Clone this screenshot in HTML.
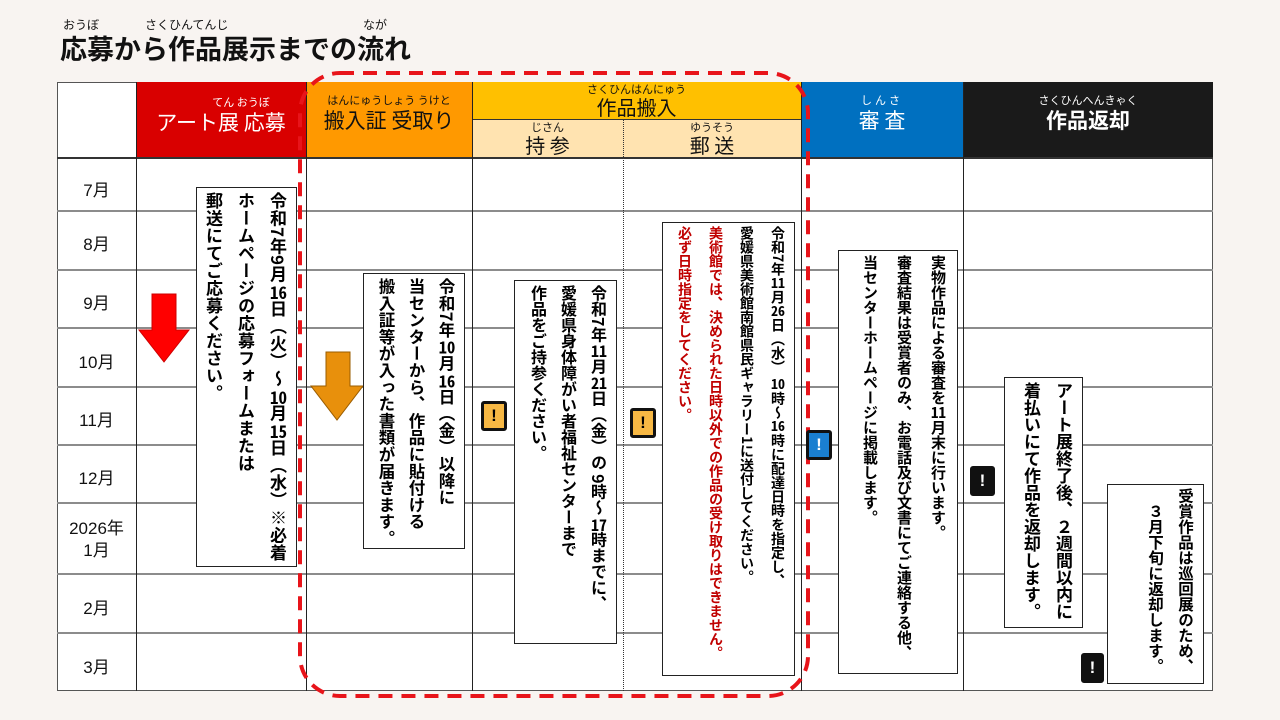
<!DOCTYPE html>
<html><head><meta charset="utf-8"><style>
*{margin:0;padding:0;box-sizing:border-box}
body{width:1280px;height:720px;background:#f8f4f1;position:relative;overflow:hidden;font-family:"Liberation Sans","Noto Sans CJK JP",sans-serif}
.a{position:absolute}
.hl{position:absolute;height:2px;background:#8c8c8c;left:57px;width:1156px}
.vl{position:absolute;width:1px;background:#222;top:82px;height:609px}
.mon{position:absolute;left:57px;width:79px;text-align:center;font-size:17px;color:#111}
.hd{position:absolute;text-align:center;color:#fff;font-family:"Noto Sans CJK JP",sans-serif}
.rb{font-size:11px;display:block;line-height:13px}
.box{position:absolute;background:#fff;border:1.5px solid #222;writing-mode:vertical-rl;font-family:"Noto Sans CJK JP",sans-serif;font-weight:bold;font-size:16px;line-height:30px;padding:4px 2px;color:#000;white-space:nowrap}
.tc{text-combine-upright:all}
.red{color:#c00000}
.ex{position:absolute;width:26px;height:30px;border:3px solid #111;border-radius:3px;text-align:center;font-weight:bold;font-size:17px;line-height:24px}
</style></head><body>
<div class="a" style="left:63px;top:16px;font-size:12px;color:#111;font-family:'Noto Sans CJK JP',sans-serif;width:400px;height:16px"><span class="a" style="left:0">おうぼ</span><span class="a" style="left:82px">さくひんてんじ</span><span class="a" style="left:300px">なが</span></div>
<div class="a" style="left:60px;top:30px;font-size:27px;font-weight:bold;color:#111;font-family:'Noto Sans CJK JP',sans-serif;line-height:36px">応募から作品展示までの流れ</div>

<div class="a" style="left:57px;top:82px;width:1156px;height:609px;background:#fff;border:1px solid #555"></div>
<div class="a" style="left:136px;top:82px;width:170px;height:76px;background:#d90000"></div>
<div class="a" style="left:306px;top:82px;width:166px;height:76px;background:#ff9900"></div>
<div class="a" style="left:472px;top:82px;width:329px;height:37px;background:#ffc000"></div>
<div class="a" style="left:472px;top:119px;width:329px;height:39px;background:#ffe3b0;border-top:1px solid #333"></div>
<div class="a" style="left:801px;top:82px;width:162px;height:76px;background:#0070c0"></div>
<div class="a" style="left:963px;top:82px;width:250px;height:76px;background:#1a1a1a"></div>

<div class="hd" style="left:136px;top:96px;width:170px;font-size:21px;line-height:26px"><span class="rb" style="padding-left:40px">てん おうぼ</span>アート展 応募</div>
<div class="hd" style="left:306px;top:94px;width:166px;font-size:21px;line-height:26px;color:#111"><span class="rb">はんにゅうしょう うけと</span>搬入証 受取り</div>
<div class="hd" style="left:472px;top:83px;width:329px;font-size:20px;color:#111;line-height:22px"><span class="rb">さくひんはんにゅう</span>作品搬入</div>
<div class="hd" style="left:472px;top:121px;width:151px;font-size:20px;color:#111;line-height:22px"><span class="rb">じさん</span>持 参</div>
<div class="hd" style="left:623px;top:121px;width:178px;font-size:20px;color:#111;line-height:22px"><span class="rb">ゆうそう</span>郵 送</div>
<div class="hd" style="left:801px;top:94px;width:162px;font-size:21px;line-height:26px"><span class="rb" style="letter-spacing:3px">しんさ</span>審 査</div>
<div class="hd" style="left:963px;top:94px;width:250px;font-size:21px;line-height:26px;font-weight:bold"><span class="rb" style="font-weight:normal">さくひんへんきゃく</span>作品返却</div>

<div class="hl" style="top:157px;background:#333"></div>
<div class="hl" style="top:210px"></div>
<div class="hl" style="top:269px"></div>
<div class="hl" style="top:327px"></div>
<div class="hl" style="top:386px"></div>
<div class="hl" style="top:444px"></div>
<div class="hl" style="top:502px"></div>
<div class="hl" style="top:573px"></div>
<div class="hl" style="top:632px"></div>
<div class="vl" style="left:136px"></div>
<div class="vl" style="left:306px"></div>
<div class="vl" style="left:472px"></div>
<div class="a" style="left:623px;top:119px;height:572px;border-left:1px dotted #333"></div>
<div class="vl" style="left:801px"></div>
<div class="vl" style="left:963px"></div>

<div class="mon" style="top:176px">7月</div>
<div class="mon" style="top:230px">8月</div>
<div class="mon" style="top:289px">9月</div>
<div class="mon" style="top:348px">10月</div>
<div class="mon" style="top:406px">11月</div>
<div class="mon" style="top:464px">12月</div>
<div class="mon" style="top:518px;line-height:22px">2026年<br>1月</div>
<div class="mon" style="top:594px">2月</div>
<div class="mon" style="top:653px">3月</div>

<svg class="a" style="left:0;top:0" width="1280" height="720">
<polygon points="152,294 176,294 176,330 189,330 164,362 139,330 152,330" fill="#ff0000" stroke="#c00" stroke-width="1"/>
<polygon points="326,352 350,352 350,386 363,386 337,420 311,386 326,386" fill="#e8900c" stroke="#9a5c00" stroke-width="1"/>
<rect x="300" y="73" width="508" height="623" rx="40" ry="40" fill="none" stroke="#e8141a" stroke-width="4" stroke-dasharray="14,9"/>
</svg>

<div class="box" style="left:196px;top:187px;width:101px;height:380px;font-size:17px;letter-spacing:0.5px;line-height:32px">令和7年9月<span class="tc">16</span>日（火）～<span class="tc">10</span>月<span class="tc">15</span>日（水）※必着<br>ホームページの応募フォームまたは<br>郵送にてご応募ください。</div>
<div class="box" style="left:363px;top:273px;width:102px;height:276px;font-size:16.5px;letter-spacing:0.3px">令和7年<span class="tc">10</span>月<span class="tc">16</span>日（金）以降に<br>当センターから、作品に貼付ける<br>搬入証等が入った書類が届きます。</div>
<div class="box" style="left:514px;top:280px;width:103px;height:364px">令和7年<span class="tc">11</span>月<span class="tc">21</span>日（金）の 9時～<span class="tc">17</span>時までに、<br>愛媛県身体障がい者福祉センターまで<br>作品をご持参ください。</div>
<div class="box" style="left:662px;top:222px;width:133px;height:454px;font-size:14px;line-height:31px;padding:3px 1px">令和7年<span class="tc">11</span>月<span class="tc">26</span>日（水） <span class="tc">10</span>時～<span class="tc">16</span>時に配達日時を指定し、<br>愛媛県美術館南館県民ギャラリー1に送付してください。<br><span class="red">美術館では、決められた日時以外での作品の受け取りはできません。<br>必ず日時指定をしてください。</span></div>
<div class="box" style="left:838px;top:250px;width:120px;height:424px;font-size:15px;line-height:34px">実物作品による審査を<span class="tc">11</span>月末に行います。<br>審査結果は受賞者のみ、お電話及び文書にてご連絡する他、<br>当センターホームページに掲載します。</div>
<div class="box" style="left:1004px;top:377px;width:79px;height:251px;font-size:17px;line-height:32px">アート展終了後、２週間以内に<br>着払いにて作品を返却します。</div>
<div class="box" style="left:1107px;top:484px;width:97px;height:200px;font-size:15.5px;line-height:30px;padding:3px 2px">受賞作品は巡回展のため、<br>　３月下旬に返却します。</div>

<div class="ex" style="left:481px;top:401px;background:#f7b844">!</div>
<div class="ex" style="left:630px;top:408px;background:#f7b844">!</div>
<div class="ex" style="left:806px;top:430px;background:#1a7fd0;color:#fff">!</div>
<div class="ex" style="left:970px;top:466px;width:25px;background:#111;color:#fff">!</div>
<div class="ex" style="left:1081px;top:653px;width:23px;background:#111;color:#fff">!</div>
</body></html>
